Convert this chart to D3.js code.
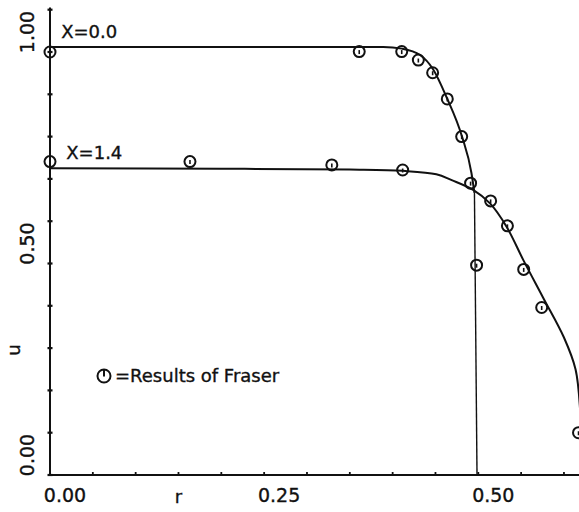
<!DOCTYPE html>
<html>
<head>
<meta charset="utf-8">
<script src="https://cdn.jsdelivr.net/npm/d3@7"></script>
<style>
  html, body { margin: 0; padding: 0; background: #fff; }
  svg { display: block; }
  text { font-family: "DejaVu Sans", sans-serif; fill: #111; stroke: #111; stroke-width: 0.35; }
</style>
</head>
<body>
<svg id="chart" width="579" height="512"></svg>
<script>
// Velocity profiles u(r) at two axial stations, with Fraser's results
const curveX00 = [[0, 1.012], [0.20, 1.012], [0.389, 1.012], [0.411, 1.008], [0.432, 0.993],
                  [0.447, 0.960], [0.463, 0.893], [0.481, 0.800], [0.492, 0.714], [0.4955, 0.667]];
const wallX00 = [[0.4955, 0.667], [0.4985, 0.0]];
const curveX14 = [[0, 0.725], [0.20, 0.724], [0.35, 0.722], [0.412, 0.719], [0.451, 0.711],
                  [0.469, 0.697], [0.494, 0.674], [0.5137, 0.642], [0.533, 0.587], [0.5526, 0.508],
                  [0.576, 0.418], [0.600, 0.325], [0.6135, 0.250], [0.619, 0.150], [0.6205, 0.06]];
const fraserX00 = [[0, 1.0], [0.361, 1.001], [0.4106, 1.001], [0.430, 0.981], [0.4467, 0.951],
                   [0.4638, 0.889], [0.4806, 0.800], [0.498, 0.496]];
const fraserX14 = [[0, 0.741], [0.1634, 0.741], [0.329, 0.733], [0.4117, 0.721], [0.491, 0.690],
                   [0.5144, 0.648], [0.534, 0.589], [0.553, 0.486], [0.574, 0.396], [0.617, 0.10]];
const xTickLabels = ["0.00", "0.25", "0.50"];
const yTickLabels = ["0.00", "0.50", "1.00"];
const curveLabels = [{ text: "X=0.0", r: 0.013, u: 1.032 }, { text: "X=1.4", r: 0.019, u: 0.746 }];
const legendText = "=Results of Fraser";

const svg = d3.select("#chart");
const x = d3.scaleLinear().domain([0, 0.5]).range([50, 478.3]);
const y = d3.scaleLinear().domain([0, 1]).range([475, 52]);

// axes
const g = svg.append("g");
g.append("line").attr("x1", x(0)).attr("x2", x(0)).attr("y1", y(0)).attr("y2", y(1.105))
  .attr("stroke", "#111").attr("stroke-width", 2);
g.append("line").attr("x1", x(0)).attr("x2", 579).attr("y1", y(0)).attr("y2", y(0))
  .attr("stroke", "#111").attr("stroke-width", 2);

const yTicks = d3.range(0, 1.101, 0.1);
g.selectAll(".yt").data(yTicks).join("line")
  .attr("x1", x(0) - 2.5).attr("x2", x(0) + 2.5)
  .attr("y1", d => y(d)).attr("y2", d => y(d))
  .attr("stroke", "#111").attr("stroke-width", 2.2);
const xTicks = d3.range(0.05, 0.6001, 0.05);
g.selectAll(".xt").data(xTicks).join("line")
  .attr("x1", d => x(d)).attr("x2", d => x(d))
  .attr("y1", y(0)).attr("y2", y(0) - 3)
  .attr("stroke", "#111").attr("stroke-width", 1.8);

// tick labels
g.selectAll(".xl").data(xTickLabels).join("text")
  .attr("x", d => x(+d) + 15).attr("y", 502)
  .attr("text-anchor", "middle").attr("font-size", 19)
  .text(d => d);
g.selectAll(".yl").data(yTickLabels).join("text")
  .attr("transform", d => `translate(34,${y(+d) - 20}) rotate(-90)`)
  .attr("text-anchor", "middle").attr("font-size", 19)
  .text(d => d);
g.append("text").attr("x", x(0.15)).attr("y", 503)
  .attr("text-anchor", "middle").attr("font-size", 18).text("r");
g.append("text").attr("transform", "translate(20,350) rotate(-90)")
  .attr("text-anchor", "middle").attr("font-size", 18).text("u");

// computed profiles
const lineMono = d3.line().x(d => x(d[0])).y(d => y(d[1])).curve(d3.curveMonotoneX);
const lineSmooth = d3.line().x(d => x(d[0])).y(d => y(d[1])).curve(d3.curveCatmullRom.alpha(0.5));
const plot = svg.append("g");
plot.append("path").attr("d", lineMono(curveX00)).attr("fill", "none")
  .attr("stroke", "#111").attr("stroke-width", 2);
plot.append("path").attr("d", d3.line().x(d => x(d[0])).y(d => y(d[1]))(wallX00))
  .attr("fill", "none").attr("stroke", "#111").attr("stroke-width", 1.4);
plot.append("path").attr("d", lineSmooth(curveX14)).attr("fill", "none")
  .attr("stroke", "#111").attr("stroke-width", 2);

// Fraser's results
function marker(sel, rad) {
  sel.append("circle").attr("r", rad).attr("fill", "none")
    .attr("stroke", "#111").attr("stroke-width", 2);
  sel.append("line").attr("x1", 0).attr("x2", 0).attr("y1", -1.5).attr("y2", 2.5)
    .attr("stroke", "#111").attr("stroke-width", 1.6);
}
plot.selectAll(".m").data(fraserX00.concat(fraserX14)).join("g")
  .attr("transform", d => `translate(${x(d[0])},${y(d[1])})`)
  .each(function () { marker(d3.select(this), 5.5); });

// curve labels
svg.selectAll(".cl").data(curveLabels).join("text")
  .attr("x", d => x(d.r)).attr("y", d => y(d.u))
  .attr("font-size", 18).text(d => d.text);

// legend
const lg = svg.append("g").attr("transform", "translate(104,376)");
lg.append("circle").attr("r", 6.5).attr("fill", "none").attr("stroke", "#111").attr("stroke-width", 2);
lg.append("line").attr("x1", 0).attr("x2", 0).attr("y1", -6.5).attr("y2", 0.5)
  .attr("stroke", "#111").attr("stroke-width", 2);
svg.append("text").attr("x", 115).attr("y", 382).attr("font-size", 18).text(legendText);
</script>
</body>
</html>
